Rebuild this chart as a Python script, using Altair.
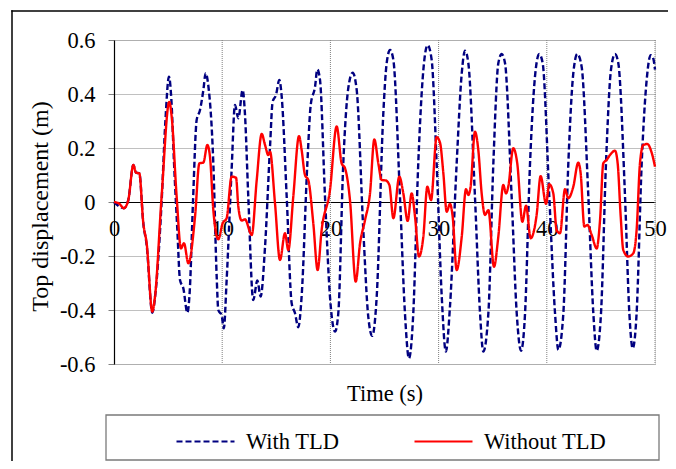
import altair as alt
import pandas as pd

# ---------------- data ----------------
series_names = ["With TLD", "Without TLD"]

t_with = [0, 0.92, 1.32, 1.79, 2.03, 2.34, 2.71, 3.02, 3.54, 3.85, 4.4, 4.75, 5.08, 5.3, 5.55,
          5.85, 6.1, 6.41, 6.78, 7.0, 7.3, 7.64, 7.95, 8.26, 8.47, 8.72, 9.18, 9.49, 9.64, 9.95,
          10.15, 10.41, 10.87, 11.18, 11.49, 11.89, 12.1, 12.41, 12.87, 13.25, 13.55, 13.96,
          14.42, 14.66, 14.97, 15.28, 15.5, 15.96, 16.42, 16.73, 17.03, 17.34, 17.87, 18.18,
          18.58, 18.79, 19.04, 19.5, 19.96, 20.43, 20.73, 21.19, 21.65, 22.06, 22.43, 23.04,
          23.5, 23.87, 24.28, 24.89, 25.2, 25.51, 25.82, 26.43, 26.89, 27.26, 27.66, 28.12,
          28.59, 28.99, 29.36, 29.82, 30.29, 30.67, 31.05, 31.67, 32.14, 32.44, 32.75, 33.36,
          33.83, 34.13, 34.6, 35.06, 35.52, 35.83, 36.14, 36.75, 37.22, 37.62, 37.99, 38.45,
          38.97, 39.3, 39.62, 40.23, 40.76, 41.07, 41.53, 41.99, 42.45, 42.82, 43.22, 43.84,
          44.3, 44.61, 45.01, 45.47, 45.93, 46.3, 46.61, 47.23, 47.63, 47.94, 48.3, 48.77,
          49.23, 49.6, 49.85, 50.0]
y_with = [0, -0.023, 0.007, 0.137, 0.109, 0.106, -0.079, -0.16, -0.41, -0.33, 0.0, 0.3, 0.464,
          0.38, 0.143, -0.1, -0.289, -0.32, -0.41, -0.33, 0.0, 0.304, 0.341, 0.415, 0.477, 0.43,
          0.143, -0.277, -0.4, -0.42, -0.468, -0.29, 0.119, 0.359, 0.31, 0.415, 0.328, 0.02,
          -0.363, -0.291, -0.35, -0.165, 0.205, 0.371, 0.396, 0.452, 0.39, 0.02, -0.375, -0.412,
          -0.464, -0.35, 0.143, 0.359, 0.427, 0.491, 0.452, 0.02, -0.35, -0.48, -0.412, 0.143,
          0.421, 0.479, 0.415, -0.104, -0.425, -0.496, -0.35, 0.328, 0.514, 0.563, 0.526, 0.02,
          -0.412, -0.579, -0.412, 0.143, 0.489, 0.581, 0.526, 0.143, -0.35, -0.554, -0.388,
          0.143, 0.477, 0.56, 0.514, 0.02, -0.412, -0.554, -0.412, 0.143, 0.514, 0.548, 0.514,
          0.02, -0.412, -0.551, -0.412, 0.143, 0.489, 0.548, 0.514, 0.02, -0.412, -0.548,
          -0.412, 0.143, 0.477, 0.548, 0.501, 0.02, -0.412, -0.551, -0.412, 0.143, 0.489, 0.548,
          0.514, 0.02, -0.412, -0.542, -0.412, 0.143, 0.452, 0.544, 0.53, 0.49]

t_without = [0, 0.45, 0.92, 1.32, 1.79, 2.03, 2.34, 2.71, 3.02, 3.54, 3.79, 4.4, 5.11, 5.33,
             5.79, 6.19, 6.47, 6.87, 7.49, 7.89, 8.26, 8.63, 8.87, 9.18, 9.64, 10.04, 10.41,
             10.87, 11.28, 11.49, 11.8, 12.1, 12.73, 13.19, 13.65, 13.96, 14.26, 14.42, 14.88,
             15.34, 15.8, 16.11, 16.57, 17.1, 17.34, 17.65, 17.96, 18.42, 18.82, 19.19, 19.96,
             20.58, 21.04, 21.35, 21.81, 22.34, 22.74, 23.2, 23.66, 24.06, 24.43, 24.74, 25.1,
             25.45, 25.82, 26.37, 26.74, 27.14, 27.51, 27.82, 28.19, 28.59, 28.96, 29.3, 29.82,
             30.13, 30.44, 30.75, 31.05, 31.3, 31.67, 32.14, 32.53, 32.75, 32.96, 33.36, 33.67,
             33.98, 34.29, 34.6, 35.12, 35.52, 35.98, 36.23, 36.44, 36.9, 37.27, 37.74, 38.08,
             38.51, 39.06, 39.43, 39.93, 40.23, 40.6, 40.91, 41.22, 41.68, 41.99, 42.45, 42.91,
             43.13, 43.47, 43.75, 44.15, 44.61, 44.92, 45.22, 45.53, 45.84, 46.3, 46.55, 46.83,
             47.07, 47.53, 47.99, 48.3, 48.61, 48.92, 49.29, 49.69, 50.0]
y_without = [0, -0.005, -0.023, 0.007, 0.137, 0.109, 0.106, -0.079, -0.153, -0.406, -0.35,
             0.02, 0.371, 0.316, 0.02, -0.172, -0.153, -0.227, -0.054, 0.143, 0.146, 0.211,
             0.168, -0.03, -0.138, -0.079, -0.06, 0.094, 0.09, -0.017, -0.069, -0.064, -0.122,
             0.081, 0.252, 0.211, 0.174, 0.186, -0.005, -0.215, -0.116, -0.178, 0.02, 0.244,
             0.193, 0.1, 0.081, -0.079, -0.252, -0.104, 0.044, 0.28, 0.143, 0.125, 0.007,
             -0.295, -0.153, -0.067, 0.032, 0.232, 0.143, 0.081, 0.08, 0.063, -0.06, 0.094,
             0.032, -0.07, 0.032, -0.054, -0.202, -0.128, 0.057, 0.007, 0.24, 0.22, 0.106,
             -0.036, -0.007, -0.054, -0.252, -0.128, 0.047, 0.026, 0.057, 0.26, 0.193, 0.032,
             -0.048, -0.03, -0.24, -0.128, 0.063, 0.032, 0.057, 0.199, 0.143, -0.073, -0.014,
             -0.134, -0.048, 0.096, -0.007, 0.066, 0.032, -0.104, -0.116, 0.047, 0.014, 0.057,
             0.146, 0.106, -0.091, -0.085, -0.122, -0.172, -0.067, 0.143, 0.156, 0.174, 0.19,
             0.143, -0.054, -0.178, -0.202, -0.19, -0.104, 0.143, 0.211, 0.215, 0.183, 0.131]

x_ticks = [0, 10, 20, 30, 40, 50]
y_ticks = [-0.6, -0.4, -0.2, 0, 0.2, 0.4, 0.6]
grid_x = [10, 20, 30, 40, 50]

# ---------------- tables ----------------
df_with = pd.DataFrame({"t": t_with, "y": y_with, "series": series_names[0]})
df_without = pd.DataFrame({"t": t_without, "y": y_without, "series": series_names[1]})
df_grid = pd.DataFrame({"t": grid_x})
df_one = pd.DataFrame({"k": [0]})

FONT = "'Liberation Serif', 'Times New Roman', 'DejaVu Serif', serif"
FS = 22.5
W, H = 541, 324

x_enc = alt.X(
    "t:Q",
    scale=alt.Scale(domain=[0, 50], nice=False, zero=False),
    axis=alt.Axis(
        values=x_ticks, orient="bottom", offset=-162, grid=False, ticks=False,
        domainColor="black", domainWidth=1.2, labelPadding=15, labelFlush=False,
        labelFont=FONT, labelFontSize=FS, labelColor="black",
        title="Time (s)", titleFont=FONT, titleFontSize=FS, titleFontWeight="normal",
        titleColor="black", titleY=191, titleBaseline="middle",
    ),
)

label_expr = ("datum.value == 0 ? '0' : (datum.value < 0 ? '-' + format(-datum.value, '.1f')"
              " : format(datum.value, '.1f'))")

y_enc = alt.Y(
    "y:Q",
    scale=alt.Scale(domain=[-0.6, 0.6], nice=False, zero=False),
    axis=alt.Axis(
        values=y_ticks, grid=True, gridDash=[1, 1], gridColor="#808080", gridWidth=1,
        tickColor="#808080", tickSize=6, domainColor="black", domainWidth=1.2,
        labelPadding=13, labelExpr=label_expr, labelFont=FONT, labelFontSize=FS,
        labelColor="black",
        title="Top displacement (m)", titleFont=FONT, titleFontSize=24,
        titleFontWeight="normal", titleColor="black", titleX=-74, titleY=166,
        titleAngle=270, titleAlign="center", titleBaseline="middle",
    ),
)

legend = alt.Legend(
    title=None, orient="none", legendX=61, legendY=371, direction="horizontal",
    symbolType="stroke", symbolSize=3364, symbolStrokeWidth=2.2,
    labelFont=FONT, labelFontSize=FS, labelColor="black", labelOffset=10,
    columnPadding=70, padding=0,
)

color_enc = alt.Color("series:N", scale=alt.Scale(domain=series_names, range=["#000080", "#FF0000"]),
                      legend=legend)
dash_enc = alt.StrokeDash("series:N", scale=alt.Scale(domain=series_names, range=[[6, 3], [1, 0]]),
                          legend=legend)

# outer frame (top and left edges only are inside the picture), drawn as thin filled bars
frame_top = alt.Chart(df_one).mark_rect(color="black", strokeWidth=0).encode(
    x=alt.value(-102.75), x2=alt.value(554), y=alt.value(-29.75), y2=alt.value(-28.25)
)
frame_left = alt.Chart(df_one).mark_rect(color="black", strokeWidth=0).encode(
    x=alt.value(-102.75), x2=alt.value(-101.25), y=alt.value(-29.75), y2=alt.value(421)
)
legend_box = alt.Chart(df_one).mark_rect(fillOpacity=0, stroke="#7a7a7a", strokeWidth=1.3).encode(
    x=alt.value(-8), x2=alt.value(545), y=alt.value(375), y2=alt.value(420)
)
vgrid = alt.Chart(df_grid).mark_rule(color="#808080", strokeWidth=1, strokeDash=[1, 1]).encode(
    x=x_enc
)
line_with = alt.Chart(df_with).mark_line(interpolate="monotone", strokeWidth=2.4).encode(
    x=x_enc, y=y_enc, color=color_enc, strokeDash=dash_enc
)
line_without = alt.Chart(df_without).mark_line(interpolate="monotone", strokeWidth=2.4).encode(
    x=x_enc, y=y_enc, color=color_enc, strokeDash=dash_enc
)

chart = alt.layer(frame_top, frame_left, legend_box, vgrid, line_with, line_without).properties(
    width=W, height=H,
    autosize=alt.AutoSizeParams(type="none"),
    padding={"left": 106, "top": 32, "right": 13, "bottom": 97},
).configure_view(strokeWidth=0).configure(background="white")

chart.save("out.html", embed_options={"renderer": "svg", "actions": False})
